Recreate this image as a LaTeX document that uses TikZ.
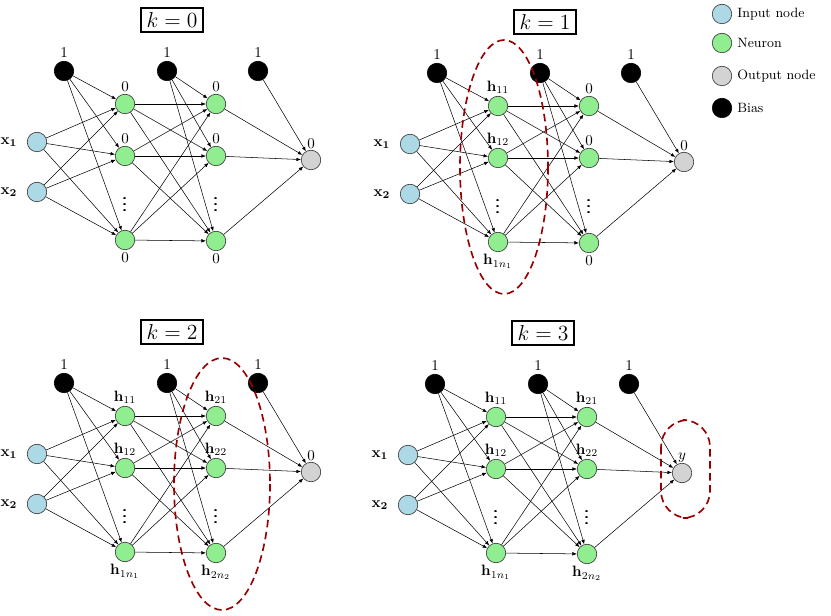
\documentclass[tikz,border=0pt]{standalone}
\usepackage{amsmath}
\usetikzlibrary{positioning}
\usetikzlibrary{arrows.meta}
\definecolor{inblue}{RGB}{173,216,230}
\definecolor{neugreen}{RGB}{144,238,144}
\definecolor{outgray}{RGB}{211,211,211}
\definecolor{ringred}{RGB}{150,0,0}
\tikzset{
    INP/.style={circle, draw=black!80, fill=inblue, minimum size=13pt, inner sep=0pt},
    NEU/.style={circle, draw=black!80, fill=neugreen, minimum size=13pt, inner sep=0pt},
    OUT/.style={circle, draw=black!80, fill=outgray, minimum size=13pt, inner sep=0pt},
    BIAS/.style={circle, draw=black, fill=black, minimum size=13pt, inner sep=0pt},
    EDGE/.style={-{Latex[length=3pt,width=2.4pt]}, line width=0.35pt},
    RING/.style={draw=ringred, line width=1.1pt, dash pattern=on 5pt off 3pt},
    TITLE/.style={draw, very thick, font=\Large, inner xsep=4pt, inner ysep=3pt},
    DOTS/.style={inner sep=0pt, font=\large},
}
% one panel of the network, #1/#2 = shift, #3 = k, #4 = prefix
\newcommand{\netpanel}[4]{%
  \begin{scope}[shift={(#1,#2)}]
    \ifnum#3>0 \def\la{$\mathbf{h}_{11}$}\def\lb{$\mathbf{h}_{12}$}\def\lc{$\mathbf{h}_{1n_1}$}%
    \else \def\la{0}\def\lb{0}\def\lc{0}\fi
    \ifnum#3>1 \def\ma{$\mathbf{h}_{21}$}\def\mb{$\mathbf{h}_{22}$}\def\mc{$\mathbf{h}_{2n_2}$}%
    \else \def\ma{0}\def\mb{0}\def\mc{0}\fi
    \ifnum#3>2 \def\ol{$y$}\else \def\ol{0}\fi
    \node[TITLE] (#4t) at (172,20) {$k=#3$};
    \node[INP, label={[xshift=-3pt]left:$\mathbf{x_1}$}] (#4x1) at (37,142) {};
    \node[INP, label={[xshift=-3pt]left:$\mathbf{x_2}$}] (#4x2) at (37,192) {};
    \node[BIAS, label={[yshift=-1pt]above:1}] (#4b1) at (64,71) {};
    \node[BIAS, label={[yshift=-1pt]above:1}] (#4b2) at (167,71) {};
    \node[BIAS, label={[yshift=-1pt]above:1}] (#4b3) at (258,71) {};
    \node[NEU, label={[yshift=-2pt]above:\la}] (#4a1) at (125,104) {};
    \node[NEU, label={[yshift=-2pt]above:\lb}] (#4a2) at (125,156) {};
    \node[NEU, label={[yshift=2pt]below:\lc}] (#4a3) at (125,240) {};
    \node[DOTS] (#4ad) at (125,200) {$\pmb{\vdots}$};
    \node[NEU, label={[yshift=-2pt]above:\ma}] (#4c1) at (216,104) {};
    \node[NEU, label={[yshift=-2pt]above:\mb}] (#4c2) at (216,156) {};
    \node[NEU, label={[yshift=2pt]below:\mc}] (#4c3) at (216,241) {};
    \node[DOTS] (#4cd) at (216,200) {$\pmb{\vdots}$};
    \node[OUT, label={[yshift=-3pt]above:\ol}] (#4o) at (311,160) {};
    \foreach \j in {1,2,3} {
        \draw[EDGE] (#4b1) -- (#4a\j);
        \draw[EDGE] (#4x1) -- (#4a\j);
        \draw[EDGE] (#4x2) -- (#4a\j);
        \draw[EDGE] (#4b2) -- (#4c\j);
        \draw[EDGE] (#4c\j) -- (#4o);
        \foreach \i in {1,2,3}
            \draw[EDGE] (#4a\i) -- (#4c\j);
    }
    \draw[EDGE] (#4b3) -- (#4o);
  \end{scope}}

\begin{document}
\begin{tikzpicture}[x=0.6667pt, y=-0.6667pt]
    \useasboundingbox (0,0) rectangle (831,616);
    \netpanel{0}{0}{0}{P}
    \netpanel{373}{2}{1}{Q}
    \netpanel{0}{312}{2}{R}
    \netpanel{371}{313}{3}{S}

    % highlighted layers
    \draw[RING] (504,167) ellipse [x radius=44, y radius=127];
    \draw[RING] (222,484) ellipse [x radius=48, y radius=126];
    \draw[RING, rounded corners=18pt] (661,420) rectangle (710,518);

    % legend
    \node[INP, label={right:\small Input node}] (LI) at (722,14) {};
    \node[NEU, label={right:\small Neuron}] (LN) at (722,43) {};
    \node[OUT, label={right:\small Output node}] (LO) at (722,76) {};
    \node[BIAS, label={right:\small Bias}] (LB) at (722,108) {};
\end{tikzpicture}
\end{document}
